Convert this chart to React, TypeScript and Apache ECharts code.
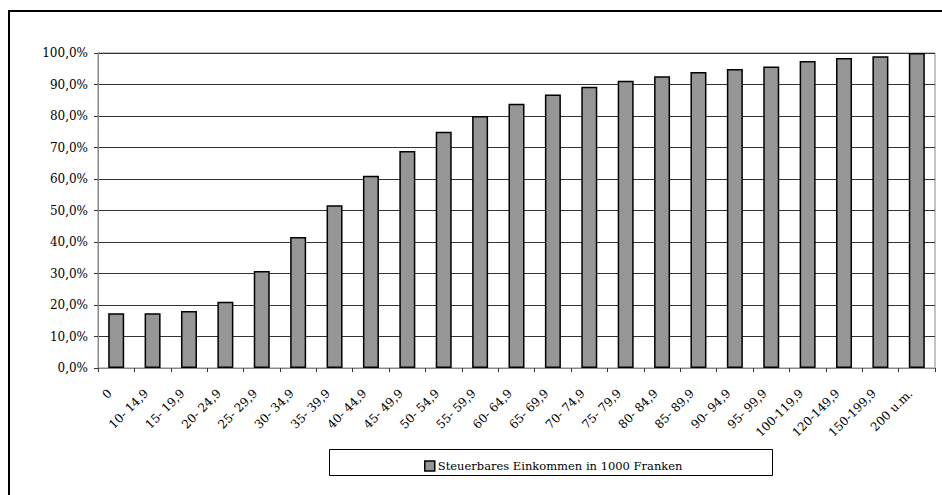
import React from 'react';
import * as echarts from 'echarts';

const CATEGORIES = [
  '0', '10- 14,9', '15- 19,9', '20- 24,9', '25- 29,9', '30- 34,9', '35- 39,9',
  '40- 44,9', '45- 49,9', '50- 54,9', '55- 59,9', '60- 64,9', '65- 69,9',
  '70- 74,9', '75- 79,9', '80- 84,9', '85- 89,9', '90- 94,9', '95- 99,9',
  '100-119,9', '120-149,9', '150-199,9', '200 u.m.',
];

// cumulative share
const VALUES = [
  0.174, 0.174, 0.181, 0.21, 0.308, 0.416, 0.517, 0.61, 0.689, 0.75, 0.80,
  0.839, 0.868, 0.893, 0.912, 0.926, 0.94, 0.949, 0.957, 0.975, 0.984, 0.99, 1.0,
];

const SERIES_NAME = 'Steuerbares Einkommen in 1000 Franken';
const SERIF = '"DejaVu Serif", serif';

const App: React.FC = () => {
  const chartRef = React.useRef<HTMLDivElement>(null);

  React.useEffect(() => {
    document.body.style.margin = '0';
    if (!chartRef.current) return;
    const chart = echarts.init(chartRef.current, undefined, { renderer: 'svg' });
    chart.setOption({
      animation: false,
      backgroundColor: '#fff',
      grid: {
        left: 98,
        right: 7,
        top: 53,
        bottom: 127,
        show: true,
        borderColor: '#888',
        borderWidth: 1,
      },
      xAxis: {
        type: 'category',
        data: CATEGORIES,
        axisLine: { lineStyle: { color: '#888', width: 1 } },
        axisTick: { show: true, length: 4, lineStyle: { color: '#333' } },
        axisLabel: {
          interval: 0,
          rotate: 45,
          margin: 17,
          padding: [0, 9, 0, 0],
          color: '#000',
          fontFamily: SERIF,
          fontSize: 12,
        },
      },
      yAxis: {
        type: 'value',
        min: 0,
        max: 1,
        interval: 0.1,
        axisLine: { show: true, lineStyle: { color: '#888', width: 1 } },
        axisTick: { show: true, length: 4, lineStyle: { color: '#333' } },
        splitLine: { lineStyle: { color: '#333', width: 1 } },
        axisLabel: {
          margin: 10,
          color: '#000',
          fontFamily: SERIF,
          fontSize: 12,
          formatter: (v: number) => (v * 100).toFixed(1).replace('.', ',') + '%',
        },
      },
      legend: {
        left: 419,
        top: 455,
        data: [SERIES_NAME],
        itemWidth: 10,
        itemHeight: 10,
        itemGap: 4,
        icon: 'rect',
        itemStyle: { color: '#969696', borderColor: '#000', borderWidth: 1.5 },
        textStyle: { fontFamily: SERIF, fontSize: 11.5, color: '#000', padding: [0, 0, 0, -2] },
      },
      graphic: [
        {
          type: 'rect',
          shape: { x: 9, y: 11, width: 1000, height: 1000 },
          style: { fill: 'none', stroke: '#000', lineWidth: 2 },
          silent: true,
        },
        {
          type: 'rect',
          shape: { x: 329.5, y: 449.5, width: 443, height: 26 },
          style: { fill: '#fff', stroke: '#000', lineWidth: 1 },
          silent: true,
          z: -1,
        },
      ],
      series: [
        {
          type: 'bar',
          name: SERIES_NAME,
          data: VALUES,
          barWidth: 16,
          itemStyle: { color: '#969696', borderColor: '#000', borderWidth: 1.5 },
        },
      ],
    });
    return () => {
      chart.dispose();
    };
  }, []);

  return <div ref={chartRef} style={{ width: 942, height: 495 }} />;
};

export default App;
